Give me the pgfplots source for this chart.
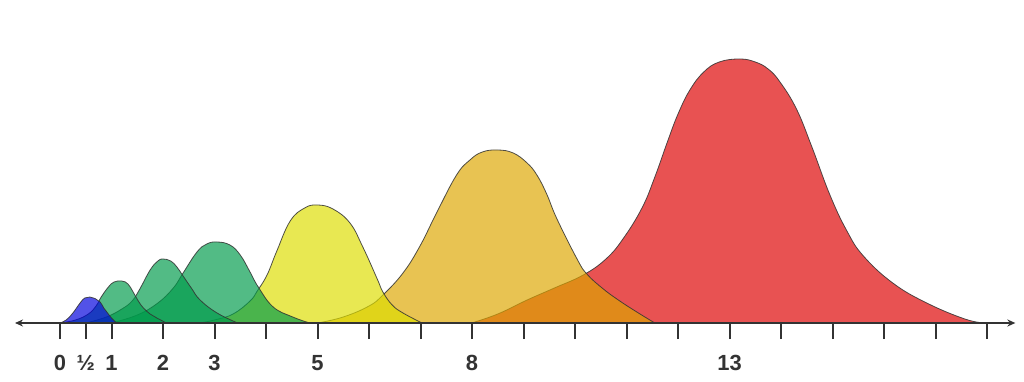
\documentclass[border=0pt]{standalone}
\usepackage{pgfplots}
\pgfplotsset{compat=1.18}
\usepackage{fontspec}
\setmainfont{Liberation Sans}
\usetikzlibrary{arrows.meta}
\definecolor{cred}{RGB}{221,0,0}
\definecolor{cgold}{RGB}{221,166,0}
\definecolor{cyel}{RGB}{221,221,0}
\definecolor{cgreen}{RGB}{0,155,75}
\definecolor{cblue}{RGB}{0,0,221}
\definecolor{caxis}{RGB}{51,51,51}
\begin{document}
\begin{tikzpicture}
\begin{axis}[
  scale only axis, width=1024bp, height=381bp,
  xmin=-1.165, xmax=18.718, ymin=-58, ymax=323,
  axis x line=middle, axis y line=none,
  x axis line style={draw=none},
  clip=false,
  xtick={0,0.5,1,2,3,4,5,6,7,8,9,10,11,12,13,14,15,16,17,18},
  xticklabels={0,½,1,2,3,{},5,{},{},8,{},{},{},{},13,{},{},{},{},{}},
  major tick length=16bp,
  xtick style={line width=2bp, color=caxis, yshift=-8bp},
  xticklabel style={font=\bfseries\fontsize{22}{26}\selectfont, text=caxis, anchor=base, yshift=-39bp},
  every axis plot/.append style={smooth, tension=0.7, fill opacity=0.68, draw=black!80, draw opacity=0.85, line width=0.8bp},
]
% 13
\addplot[fill=cred] coordinates {(7.99,0) (8.5,9) (9.07,23) (9.6,35) (10.16,48) (10.6,64) (10.93,84) (11.3,115) (11.55,146) (11.8,182) (12.0,209) (12.23,233) (12.5,251) (12.8,261) (13.2,264) (13.5,261) (13.75,254) (13.98,241) (14.3,214) (14.6,176) (14.95,128) (15.28,92) (15.6,67) (16.17,40) (16.83,20) (17.57,4) (17.96,0)} \closedcycle;
% 8
\addplot[fill=cgold] coordinates {(5.0,0) (5.5,6) (6.0,17) (6.27,28) (6.66,50) (6.99,77) (7.32,111) (7.7,148) (7.96,163) (8.2,171) (8.5,173) (8.8,170) (9.07,160) (9.26,148) (9.45,129) (9.65,104) (10.04,64) (10.23,49) (10.55,34) (10.87,22) (11.2,11) (11.55,0)} \closedcycle;
% 5
\addplot[fill=cyel] coordinates {(2.7,0) (3.0,3) (3.36,9) (3.69,22) (3.83,32) (4.02,48) (4.21,72) (4.47,102) (4.75,115) (5.0,118) (5.3,114) (5.63,100) (5.88,76) (6.16,44) (6.27,31) (6.45,18) (6.66,10) (7.03,0)} \closedcycle;
% 3
\addplot[fill=cgreen] coordinates {(1.0,0) (1.5,8) (1.9,20) (2.2,35) (2.39,50) (2.66,71) (2.85,79) (3.05,81) (3.3,78) (3.5,68) (3.69,51) (3.85,36) (4.14,16) (4.52,6) (4.85,0)} \closedcycle;
% 2
\addplot[fill=cgreen] coordinates {(0.5,0) (0.9,6) (1.2,14) (1.4,22) (1.55,34) (1.75,53) (1.9,62) (2.0,64) (2.15,62) (2.27,56) (2.39,47) (2.55,35) (2.72,23) (3.05,10) (3.45,0)} \closedcycle;
% 1
\addplot[fill=cgreen] coordinates {(0.0,0) (0.3,3) (0.55,9) (0.7,17) (0.8,26) (0.94,36) (1.05,41) (1.2,42) (1.32,39) (1.42,31) (1.52,22) (1.62,15) (1.75,9) (1.88,5) (2.07,0)} \closedcycle;
% 1/2
\addplot[fill=cblue] coordinates {(0,0) (0.12,3) (0.25,10) (0.39,20) (0.48,25) (0.58,26) (0.68,24.5) (0.78,21) (0.85,15) (0.91,11) (1.0,5) (1.1,0)} \closedcycle;
\draw[line width=2bp, color=caxis, {Stealth[length=8bp,width=7bp]}-{Stealth[length=8bp,width=7bp]}] (axis cs:-0.874,0) -- (axis cs:18.55,0);
\path (rel axis cs:0,0) (rel axis cs:1,1);
\end{axis}
\end{tikzpicture}
\end{document}
